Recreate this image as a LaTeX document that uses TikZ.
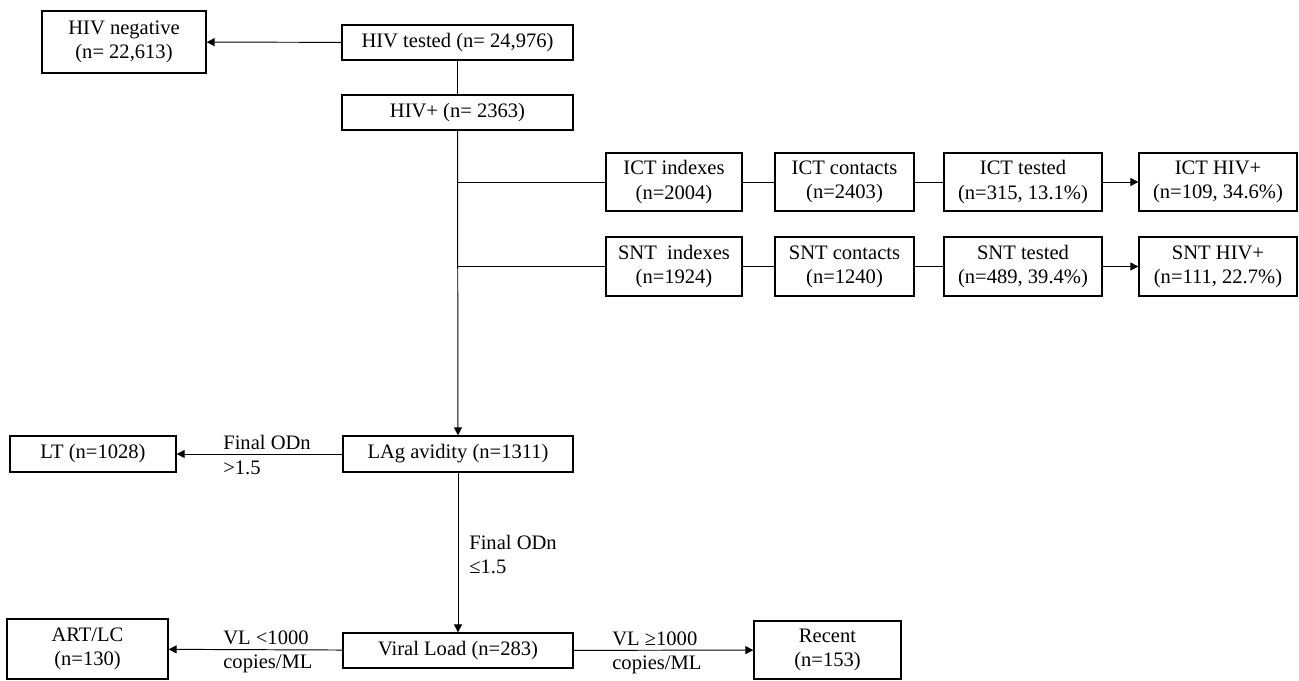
\documentclass[tikz,border=0pt]{standalone}
\usepackage{fontspec}
\setmainfont{Liberation Serif}
\usetikzlibrary{arrows.meta}

\tikzset{
  box/.style={draw, line width=0.75pt, align=center, inner sep=2pt},
  link/.style={line width=0.55pt},
  arr/.style={link, -{Triangle[length=1.6mm, width=1.6mm]}},
  lbl/.style={align=left, anchor=west, inner sep=0pt},
}

\begin{document}
\begin{tikzpicture}[x=0.02cm, y=-0.02cm, every node/.style={font=\fontsize{11.7}{13.8}\selectfont}]
                \useasboundingbox (0,0) rectangle (1299,680);

                % Testing boxes
                \node[box, minimum width=4.62cm, minimum height=0.70cm] (tested) at (457.5,42.5) {HIV tested (n= 24,976)};
                \node[box, minimum width=3.28cm, minimum height=1.24cm] (neg) at (124,42) {HIV negative\\(n= 22,613)};
                \node[box, minimum width=4.62cm, minimum height=0.70cm] (hivpos) at (457.5,112.5) {HIV+ (n= 2363)};

                % ICT row
                \node[box, minimum width=2.72cm, minimum height=1.16cm] (ictidx) at (674,182) {ICT indexes\\(n=2004)};
                \node[box, minimum width=2.78cm, minimum height=1.16cm] (ictcon) at (844.5,182) {ICT contacts\\(n=2403)};
                \node[box, minimum width=3.16cm, minimum height=1.16cm] (icttst) at (1023,182) {ICT tested\\(n=315, 13.1\%)};
                \node[box, minimum width=3.16cm, minimum height=1.16cm] (icthiv) at (1218,182) {ICT HIV+\\(n=109, 34.6\%)};

                % SNT row
                \node[box, minimum width=2.72cm, minimum height=1.18cm] (sntidx) at (674,266.5) {SNT\ \ indexes\\(n=1924)};
                \node[box, minimum width=2.78cm, minimum height=1.18cm] (sntcon) at (844.5,266.5) {SNT contacts\\(n=1240)};
                \node[box, minimum width=3.16cm, minimum height=1.18cm] (snttst) at (1023,266.5) {SNT tested\\(n=489, 39.4\%)};
                \node[box, minimum width=3.16cm, minimum height=1.18cm] (snthiv) at (1218,266.5) {SNT HIV+\\(n=111, 22.7\%)};

                % Recency testing
                \node[box, minimum width=4.60cm, minimum height=0.72cm] (lag) at (458,454) {LAg avidity (n=1311)};
                \node[box, minimum width=3.32cm, minimum height=0.72cm] (lt) at (93,454) {LT (n=1028)};
                \node[box, minimum width=4.60cm, minimum height=0.70cm] (vl) at (458,650.5) {Viral Load (n=283)};
                \node[box, minimum width=3.22cm, minimum height=1.20cm] (art) at (87.5,649) {ART/LC\\(n=130)};
                \node[box, minimum width=2.94cm, minimum height=1.16cm] (recent) at (827.5,650) {Recent\\(n=153)};

                % Connectors
                \draw[arr] (tested) -- (neg);
                \draw[link] (tested) -- (hivpos);
                \draw[arr] (hivpos) -- (lag);
                \coordinate (ictjoin) at (hivpos.south |- ictidx.west);
                \coordinate (sntjoin) at (hivpos.south |- sntidx.west);
                \draw[link] (ictjoin) -- (ictidx) -- (ictcon) -- (icttst);
                \draw[arr] (icttst) -- (icthiv);
                \draw[link] (sntjoin) -- (sntidx) -- (sntcon) -- (snttst);
                \draw[arr] (snttst) -- (snthiv);
                \draw[arr] (lag) -- (lt);
                \draw[arr] (lag) -- (vl);
                \draw[arr] (vl) -- (art);
                \draw[arr] (vl) -- (recent);

                % Branch labels
                \node[lbl] (odnhigh) at (223,455) {Final ODn\\>1.5};
                \node[lbl] (odnlow) at (469,554.5) {Final ODn\\≤1.5};
                \node[lbl] (vllow) at (223,652) {VL <1000\\copies/ML};
                \node[lbl] (vlhigh) at (612,653) {VL ≥1000\\copies/ML};
            \end{tikzpicture}
\end{document}
